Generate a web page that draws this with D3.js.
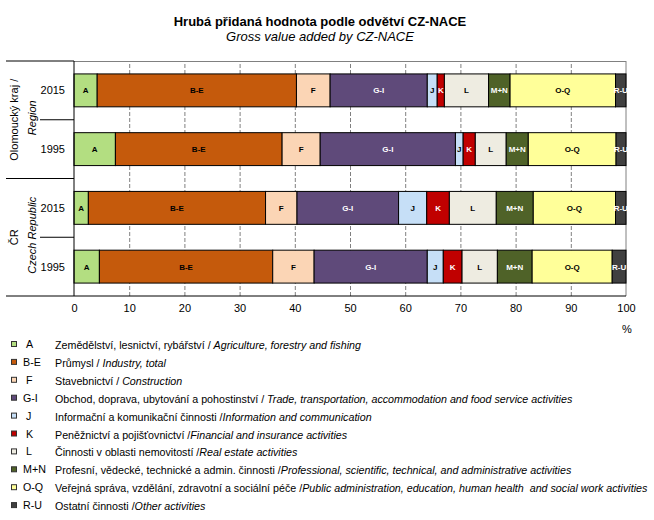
<!DOCTYPE html>
<html><head><meta charset="utf-8">
<script src="https://cdn.jsdelivr.net/npm/d3@7"></script>
<style>
body{margin:0;background:#fff;}
svg{font-family:"Liberation Sans",Arial,sans-serif;}
</style></head>
<body><svg id="c" width="654" height="520"></svg>
<script>
const titleCz = "Hrubá přidaná hodnota podle odvětví CZ-NACE";
const titleEn = "Gross value added by CZ-NACE";
const sectors = ["A","B-E","F","G-I","J","K","L","M+N","O-Q","R-U"];
const groupsCz = ["Olomoucký kraj /","ČR"];
const groupsEn = ["Region","Czech Republic"];
const years = ["2015","1995","2015","1995"];
const rowGroup = [0,0,1,1];
const olomouc2015 = [4.2,36.1,6.1,17.6,1.8,1.3,8.0,3.9,19.1,1.9];
const olomouc1995 = [7.5,30.2,6.9,24.5,1.4,2.2,5.6,4.0,15.9,1.8];
const cr2015 = [2.6,32.1,5.7,18.4,5.1,4.1,8.5,6.7,14.9,1.9];
const cr1995 = [4.6,31.4,7.5,20.5,2.9,3.4,6.4,6.3,14.5,2.5];
const xTicks = [0,10,20,30,40,50,60,70,80,90,100];
const legendCz = ["Zemědělství, lesnictví, rybářství / ","Průmysl / ","Stavebnictví / ","Obchod, doprava, ubytování a pohostinství / ","Informační a komunikační činnosti /","Peněžnictví a pojišťovnictví /","Činnosti v oblasti nemovitostí /","Profesní, vědecké, technické a admin. činnosti /","Veřejná správa, vzdělání, zdravotní a sociální péče /","Ostatní činnosti /"];
const legendEn = ["Agriculture, forestry and fishing","Industry, total","Construction","Trade, transportation, accommodation and food service activities","Information and communication","Financial and insurance activities","Real estate activities","Professional, scientific, technical, and administrative activities","Public administration, education, human health  and social work activities","Other activities"];

const colors = ["#b3de81","#c55a0c","#fbd5b5","#5f4a7a","#c6dff7","#c00000","#eeece1","#4f6228","#ffff99","#404040"];
const labelColors = ["#000","#000","#000","#fff","#000","#fff","#000","#fff","#000","#fff"];

const rowsData = [olomouc2015, olomouc1995, cr2015, cr1995];
const svg = d3.select("#c");
const L = 74, R = 626, T = 61, B = 296;
const x = d3.scaleLinear().domain([0,100]).range([L,R]);
const y = d3.scaleBand().domain(d3.range(rowsData.length)).range([T,B]).paddingInner(0.44).paddingOuter(0.22);

// title
svg.append("text").attr("x",320).attr("y",26).attr("text-anchor","middle")
  .attr("font-weight","bold").attr("font-size","13px").text(titleCz);
svg.append("text").attr("x",320).attr("y",40.5).attr("text-anchor","middle")
  .attr("font-style","italic").attr("font-size","13px").text(titleEn);

// grid
const grid = svg.append("g").attr("transform",`translate(0,${B})`)
  .call(d3.axisBottom(x).tickValues(xTicks.slice(1,-1)).tickSize(-(B-T)).tickFormat(""));
grid.select(".domain").remove();
grid.selectAll("line").attr("stroke","#808080").attr("stroke-dasharray","4,2");

// frame top/right
svg.append("line").attr("x1",L).attr("x2",R).attr("y1",T+0.5).attr("y2",T+0.5).attr("stroke","#808080");
svg.append("line").attr("x1",R).attr("x2",R).attr("y1",T).attr("y2",B).attr("stroke","#808080");

// bars
rowsData.forEach((vals,ri)=>{
  const stacked = d3.cumsum(vals);
  const g = svg.append("g");
  const segs = vals.map((v,i)=>({v, i, x0: stacked[i]-v, x1: stacked[i]}));
  g.selectAll("rect").data(segs).join("rect")
    .attr("x",d=>x(d.x0)).attr("width",d=>x(d.x1)-x(d.x0))
    .attr("y",y(ri)).attr("height",y.bandwidth())
    .attr("fill",d=>colors[d.i]).attr("stroke","#000").attr("stroke-width",1);
  g.selectAll("text").data(segs).join("text")
    .attr("x",d=>(x(d.x0)+x(d.x1))/2).attr("y",y(ri)+y.bandwidth()/2+3)
    .attr("text-anchor","middle").attr("font-size","8px").attr("font-weight","bold")
    .attr("fill",d=>labelColors[d.i]).text(d=>sectors[d.i]);
});

// x axis
const xa = svg.append("g").attr("transform",`translate(0,${B})`)
  .call(d3.axisBottom(x).tickValues(xTicks).tickSize(0).tickPadding(8).tickFormat(d3.format("d")));
xa.select(".domain").remove();
xa.selectAll("text").attr("font-size","11px").attr("font-family","Liberation Sans, Arial, sans-serif").attr("fill","#000");
svg.append("line").attr("x1",L).attr("x2",R).attr("y1",B).attr("y2",B).attr("stroke","#000");
svg.append("line").attr("x1",L).attr("x2",L).attr("y1",T).attr("y2",B).attr("stroke","#000");
svg.append("text").attr("x",x(100)+1).attr("y",333).attr("text-anchor","middle").attr("font-size","11px").text("%");

// y labels
years.forEach((yr,i)=>{
  svg.append("text").attr("x",65).attr("y",y(i)+y.bandwidth()/2+4).attr("text-anchor","end")
    .attr("font-size","11px").text(yr);
});
const step = y.step();
for(let i=0;i<=rowsData.length;i++){
  const yy = T + i*step;
  const outer = (i===0 || i===rowsData.length || rowGroup[i]!==rowGroup[i-1]);
  svg.append("line").attr("x1",outer?6:40).attr("x2",L).attr("y1",yy).attr("y2",yy).attr("stroke","#000");
}
groupsCz.forEach((gn,gi)=>{
  const idx = d3.range(rowsData.length).filter(i=>rowGroup[i]===gi);
  const cy = (T+idx[0]*step + T+(idx[idx.length-1]+1)*step)/2;
  svg.append("text").attr("transform",`translate(17.5,${cy}) rotate(-90)`).attr("text-anchor","middle")
    .attr("font-size","11px").text(gn);
  svg.append("text").attr("transform",`translate(35.5,${cy-2}) rotate(-90)`).attr("text-anchor","middle")
    .attr("font-size","11px").attr("font-style","italic").text(groupsEn[gi]);
});

// legend
const lg = svg.append("g");
sectors.forEach((s,i)=>{
  const cy = 345 + i*17.9;
  lg.append("rect").attr("x",11.5).attr("y",cy-3.5).attr("width",5).attr("height",5)
    .attr("fill",colors[i]).attr("stroke","#333").attr("stroke-width",1);
  lg.append("text").attr("x",s.length===1?26:23).attr("y",cy+3).attr("font-size","10.7px").text(s);
  const t = lg.append("text").attr("x",55).attr("y",cy+4).attr("font-size","10.7px").attr("xml:space","preserve");
  t.append("tspan").text(legendCz[i]);
  t.append("tspan").attr("font-style","italic").text(legendEn[i]);
});
</script></body></html>
